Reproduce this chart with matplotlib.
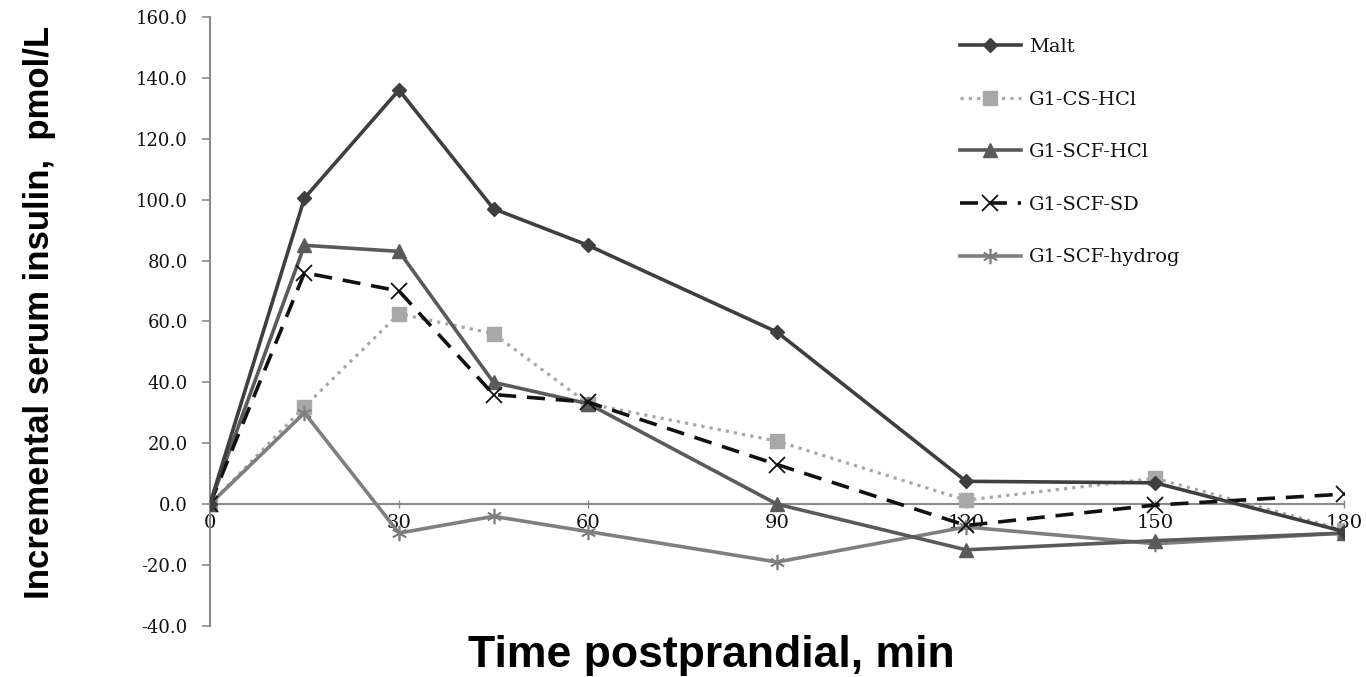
import numpy as np
import matplotlib
matplotlib.use("Agg")
import matplotlib.pyplot as plt

# time points (min) and incremental insulin (pmol/L)
time_min = [0, 15, 30, 45, 60, 90, 120, 150, 180]
malt = [0.0, 100.5, 136.0, 97.0, 85.0, 56.5, 7.5, 7.0, -9.0]
g1_cs_hcl = [0.0, 32.0, 62.5, 56.0, 33.0, 20.7, 1.3, 8.5, -8.5]
g1_scf_hcl = [0.0, 85.0, 83.0, 40.0, 33.0, 0.0, -15.0, -12.0, -9.5]
g1_scf_sd = [0.0, 76.0, 70.0, 36.0, 33.5, 13.0, -7.0, -0.3, 3.3]
g1_scf_hydrog = [0.0, 30.0, -9.5, -4.0, -9.0, -19.0, -7.5, -13.0, -9.5]

x_ticks = [0, 30, 60, 90, 120, 150, 180]
y_ticks = np.arange(-40, 161, 20)

fig = plt.figure(figsize=(13.66, 6.77), dpi=100)
ax = fig.add_axes([0.1537, 0.0754, 0.8303, 0.8996])

ax.plot(time_min, malt, color="#3f3f3f", lw=2.6, marker="D", ms=7,
        label="Malt", zorder=5)
ax.plot(time_min, g1_cs_hcl, color="#a8a8a8", lw=2.3, ls=(0, (1, 1.6)),
        marker="s", ms=10, label="G1-CS-HCl", zorder=3)
ax.plot(time_min, g1_scf_hcl, color="#5a5a5a", lw=2.6, marker="^", ms=10,
        label="G1-SCF-HCl", zorder=4)
ax.plot(time_min, g1_scf_sd, color="#111111", lw=2.6, ls=(0, (5, 3)),
        marker="x", ms=11, mew=1.3, label="G1-SCF-SD", zorder=4)
ax.plot(time_min, g1_scf_hydrog, color="#7f7f7f", lw=2.6, marker=(6, 2, 0),
        ms=11, mew=1.2, label="G1-SCF-hydrog", zorder=3)

ax.set_xlim(0, 180)
ax.set_ylim(-40, 160)
ax.set_xticks(x_ticks)
ax.set_yticks(y_ticks)
ax.set_yticklabels([f"{v:.1f}" for v in y_ticks])

for s in ["top", "right"]:
    ax.spines[s].set_visible(False)
ax.spines["bottom"].set_position(("data", 0))
ax.spines["bottom"].set_color("#8a8a8a")
ax.spines["left"].set_color("#8a8a8a")
ax.spines["bottom"].set_linewidth(1.5)
ax.spines["left"].set_linewidth(1.5)

ax.tick_params(axis="y", direction="out", length=6, width=1.2,
               color="#8a8a8a", pad=10, labelsize=13)
ax.tick_params(axis="x", direction="inout", length=6, width=1,
               color="#8a8a8a", pad=4, labelsize=14)
for lab in ax.get_xticklabels() + ax.get_yticklabels():
    lab.set_family("DejaVu Serif")
    lab.set_color("#111111")

fig.text(0.029, 0.538, "Incremental serum insulin,  pmol/L", rotation=90,
         ha="center", va="center", fontsize=25, fontweight="bold",
         family="Liberation Sans")
fig.text(0.521, 0.032, "Time postprandial, min", ha="center", va="center",
         fontsize=32, fontweight="bold", family="Liberation Sans")

leg = ax.legend(loc="upper left", bbox_to_anchor=(0.703, 0.944),
                bbox_transform=fig.transFigure, frameon=False,
                handlelength=3.1, handletextpad=0.45, labelspacing=1.78,
                borderpad=0, borderaxespad=0,
                prop={"family": "DejaVu Serif", "size": 14})
for t in leg.get_texts():
    t.set_color("#111111")

fig.savefig("out.png", dpi=100, facecolor="white")
